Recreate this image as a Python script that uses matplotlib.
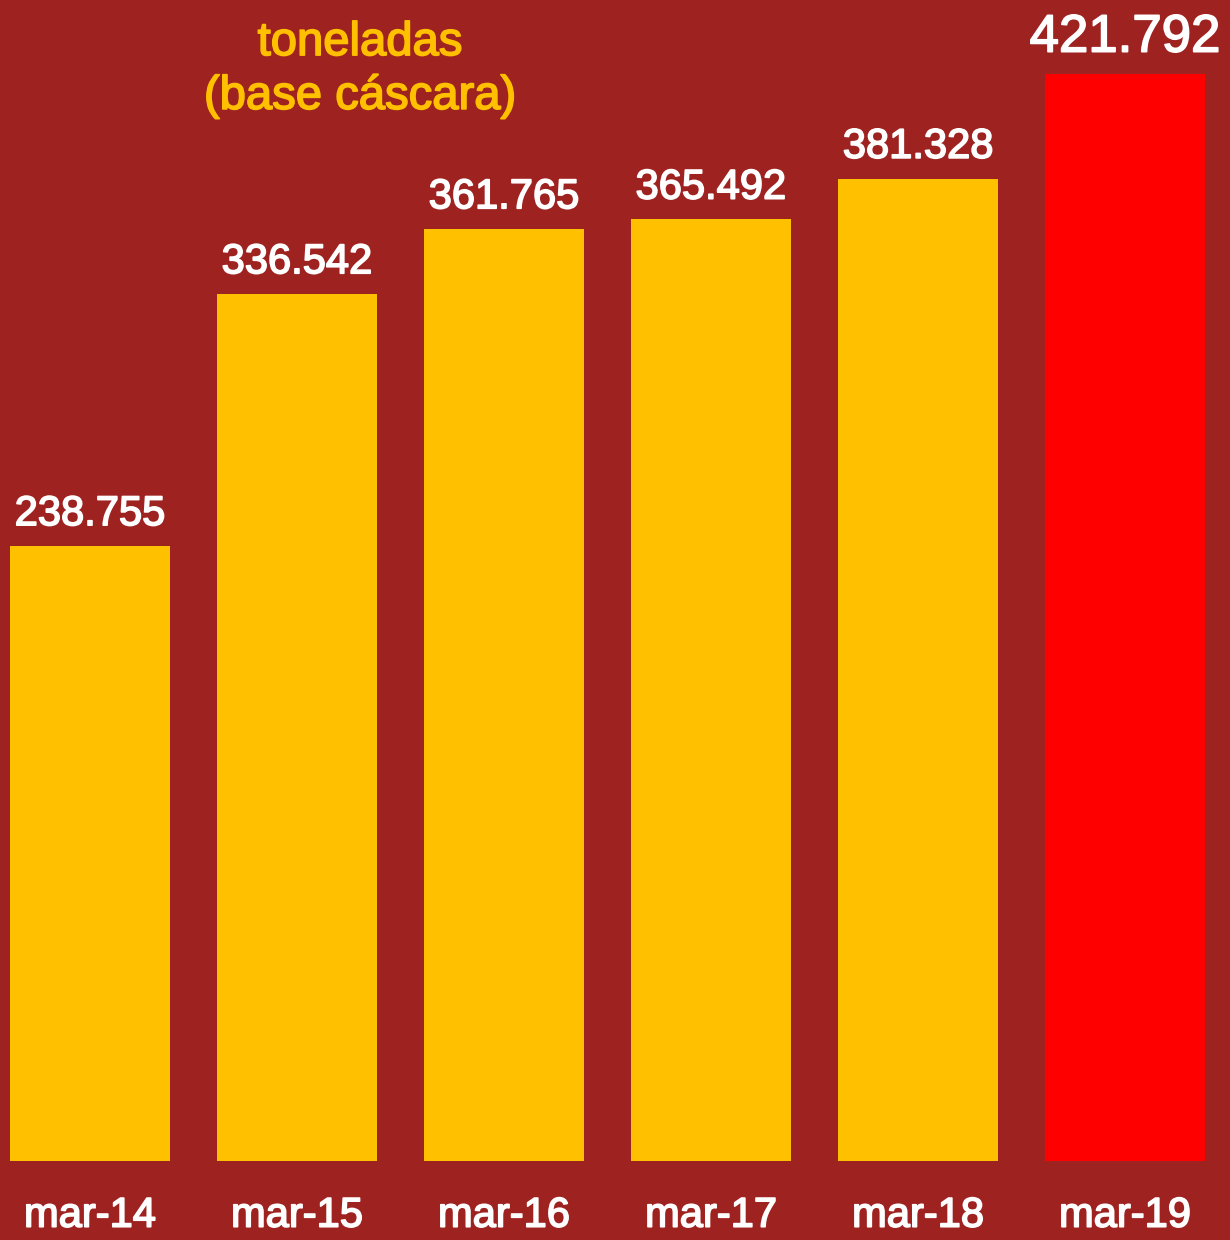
import matplotlib
matplotlib.use("Agg")
from matplotlib import pyplot as plt
import matplotlib.patheffects as pe

# data
periods = ['mar-14', 'mar-15', 'mar-16', 'mar-17', 'mar-18', 'mar-19']
tonnes = [238755, 336542, 361765, 365492, 381328, 421792]
value_labels = ['238.755', '336.542', '361.765', '365.492', '381.328', '421.792']

bg = '#9E2220'
yellow = '#FFC000'
red = '#FF0000'

plt.rcParams['font.family'] = ['Liberation Sans', 'DejaVu Sans']

# slightly heavier strokes, the reference text is a bit bolder than regular
thick_white = [pe.withStroke(linewidth=1.2, foreground='white')]
thick_yellow = [pe.withStroke(linewidth=1.2, foreground=yellow)]

fig = plt.figure(figsize=(12.3, 12.4), dpi=100, facecolor=bg)
# axes spans the full width, bottom at the bars' base
ax = fig.add_axes([0, 79 / 1240, 1, 1161 / 1240])
ax.set_facecolor(bg)

colors = [yellow] * (len(tonnes) - 1) + [red]
xs = list(range(len(periods)))
bars = ax.bar(xs, tonnes, width=0.773, color=colors)

ax.set_xlim(-90 / 207, (1230 - 90) / 207)
ax.set_ylim(0, 450700)

for i, b in enumerate(bars):
    size = 38 if i == len(bars) - 1 else 30
    ax.annotate(value_labels[i], (b.get_x() + b.get_width() / 2, b.get_height()),
                xytext=(0, 8.5), textcoords='offset points',
                ha='center', va='bottom', color='white', fontsize=size,
                path_effects=thick_white)

ax.set_xticks(xs)
ax.set_xticklabels(periods, color='white', fontsize=30)
for lbl in ax.get_xticklabels():
    lbl.set_path_effects(thick_white)
ax.tick_params(axis='x', length=0, pad=25)
ax.set_yticks([])
for s in ax.spines.values():
    s.set_visible(False)

fig.text(360 / 1230, 1 - 70 / 1240, 'toneladas\n(base cáscara)', ha='center', va='center',
         color=yellow, fontsize=34, linespacing=1.27, path_effects=thick_yellow)

fig.savefig('out.png', dpi=100, facecolor=bg)
